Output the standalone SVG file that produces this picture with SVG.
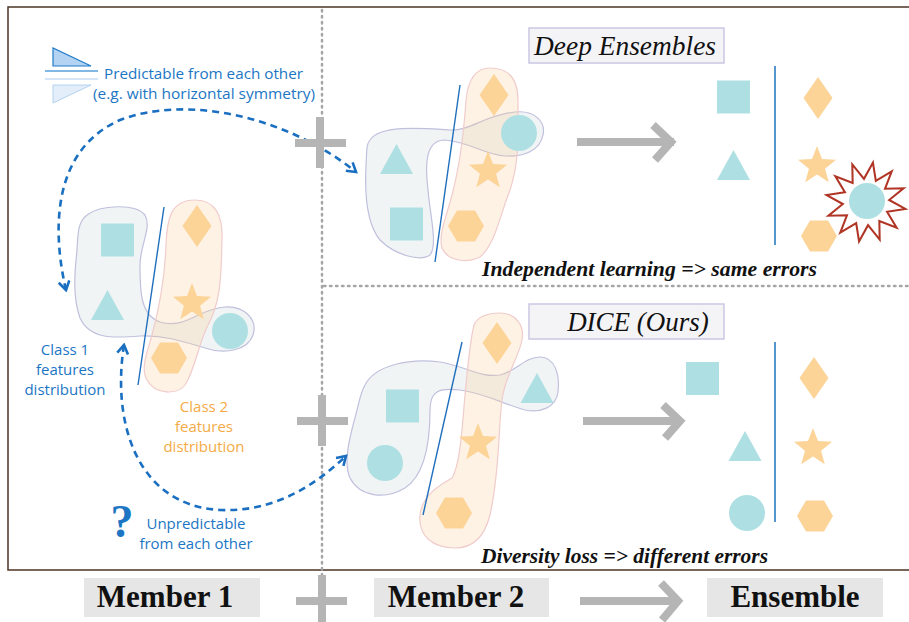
<svg xmlns="http://www.w3.org/2000/svg" xmlns:xlink="http://www.w3.org/1999/xlink" width="909" height="622" viewBox="0 0 909 622">
<style>
.c1{fill:rgba(205,220,220,0.3);stroke:#c0c0de;stroke-width:1.2}
.c2{fill:rgba(252,205,150,0.26);stroke:#f0cccc;stroke-width:1.2}
.teal{fill:#aee0e3}
.org{fill:#fcd498}
.sep{stroke:#1f6fbd;stroke-width:1.4;fill:none}
.gray{stroke:#b5b5b5;stroke-width:8;fill:none}
.dash{stroke:#1a6fc0;stroke-width:2.6;fill:none;stroke-dasharray:7 5}
.dot{stroke:#a6a6a6;stroke-width:2.5;stroke-dasharray:1.5 4.5;stroke-linecap:round;fill:none}
.lbl{font-family:"Open Sans","Noto Sans",sans-serif;font-size:15px}
.blue{fill:#1c76c4}
.orange{fill:#f5ab45}
.title{font-family:"Liberation Serif",serif;font-style:italic;font-size:27px;fill:#111}
.cap{font-family:"Liberation Serif",serif;font-style:italic;font-weight:bold;font-size:20px;fill:#111}
.box{fill:#f4f4f7;stroke:#cac8e2;stroke-width:1.5}
.mem{fill:#e6e6e6}
.memt{font-family:"Liberation Serif",serif;font-weight:bold;font-size:31px;fill:#111;text-anchor:middle}
</style>
<defs>
<marker id="chev" viewBox="0 0 12 12" refX="10" refY="6" markerWidth="13" markerHeight="13" markerUnits="userSpaceOnUse" orient="auto-start-reverse">
<path d="M2,1 L10,6 L2,11" fill="none" stroke="#1a6fc0" stroke-width="2.4"/>
</marker>
<rect id="sq" x="-16.5" y="-16.5" width="33" height="33"/>
<polygon id="tri" points="0,-15 16.5,15 -16.5,15"/>
<circle id="cir" r="18"/>
<polygon id="dia" points="0,-21 14.5,0 0,21 -14.5,0"/>
<polygon id="hex" points="-9,-15.5 9,-15.5 18,0 9,15.5 -9,15.5 -18,0"/>
<polygon id="star" points="0,-20 5,-6.88 19.02,-6.18 8.08,2.63 11.76,16.18 0,8.5 -11.76,16.18 -8.08,2.63 -19.02,-6.18 -5,-6.88"/>
</defs>
<rect width="909" height="622" fill="#fff"/>

<!-- frame -->
<path d="M909,7 H8 V570 H909" fill="none" stroke="#4e3424" stroke-width="1.5"/>
<line class="dot" x1="322" y1="10" x2="322" y2="622"/>
<line class="dot" x1="324" y1="286" x2="909" y2="286"/>

<!-- legend top-left -->
<g id="legend-predictable">
<polygon points="53,48 53,66 91,66" fill="#b4d3f2" stroke="#1f7bc7" stroke-width="1.2"/>
<line x1="45" y1="71" x2="98" y2="71" stroke="#5aa0dc" stroke-width="1.6"/>
<line x1="45" y1="79" x2="98" y2="79" stroke="#a8ccee" stroke-width="1.2"/>
<polygon points="53,85 91,85 53,103" fill="#e4eefa" stroke="#b4d2f0" stroke-width="1"/>
<text class="lbl blue" x="104" y="79" textLength="199" lengthAdjust="spacingAndGlyphs">Predictable from each other</text>
<text class="lbl blue" x="93" y="99" textLength="222" lengthAdjust="spacingAndGlyphs">(e.g. with horizontal symmetry)</text>
</g>

<!-- Member 1 -->
<g id="member1">
<path class="c1" d="M87,215 C100,205 135,203 145,215 C152,228 140,245 140,265 C140,290 140,315 160,322 C185,330 200,308 225,307 C245,306 258,320 253,335 C248,350 225,355 205,348 C185,342 165,335 140,336 C115,338 90,340 80,318 C72,295 75,270 77,250 C78,232 78,222 87,215 Z"/>
<path class="c2" d="M195,200 C215,200 223,215 222,240 C221,270 222,300 208,325 C198,345 195,370 185,385 C178,395 155,395 147,380 C140,368 148,350 152,335 C160,305 165,275 166,245 C167,220 170,200 195,200 Z"/>
<use href="#sq" class="teal" x="117.5" y="240"/>
<use href="#tri" class="teal" x="107.5" y="305"/>
<use href="#cir" class="teal" x="230" y="331"/>
<use href="#dia" class="org" x="197" y="226"/>
<use href="#star" class="org" x="192" y="303"/>
<use href="#hex" class="org" x="169" y="358"/>
<line class="sep" x1="164" y1="207" x2="138" y2="385"/>
</g>
<g id="class1-label">
<text class="lbl blue" text-anchor="middle" x="65" y="355">Class 1</text>
<text class="lbl blue" text-anchor="middle" x="65" y="375">features</text>
<text class="lbl blue" text-anchor="middle" x="65" y="395">distribution</text>
</g>
<g id="class2-label">
<text class="lbl orange" text-anchor="middle" x="204" y="412">Class 2</text>
<text class="lbl orange" text-anchor="middle" x="204" y="432">features</text>
<text class="lbl orange" text-anchor="middle" x="204" y="452">distribution</text>
</g>
<g id="legend-unpredictable">
<text x="122" y="537" text-anchor="middle" font-family="Liberation Serif,serif" font-weight="bold" font-size="46" fill="#1c76c4">?</text>
<text class="lbl blue" text-anchor="middle" x="196" y="529">Unpredictable</text>
<text class="lbl blue" text-anchor="middle" x="196" y="549">from each other</text>
</g>

<!-- Member 2 top (Deep Ensembles) -->
<g id="de-title">
<rect class="box" x="529" y="28" width="195" height="35"/>
<text class="title" x="625" y="55" text-anchor="middle" textLength="182" lengthAdjust="spacingAndGlyphs">Deep Ensembles</text>
</g>
<g id="de-member2">
<path class="c1" d="M370,140 C380,125 420,128 450,130 C470,131 485,115 515,112 C535,110 546,122 543,135 C540,150 525,157 505,156 C485,155 470,142 445,140 C425,140 425,165 428,190 C430,215 438,245 430,255 C420,262 395,255 380,240 C365,222 365,185 366,165 C367,150 366,145 370,140 Z"/>
<path class="c2" d="M490,68 C510,68 518,80 518,100 C518,130 520,160 510,190 C500,215 495,245 480,257 C468,263 448,262 442,248 C438,235 447,215 452,195 C460,165 464,130 466,100 C468,80 475,68 490,68 Z"/>
<use href="#tri" class="teal" x="396.5" y="159"/>
<use href="#sq" class="teal" x="406.5" y="224"/>
<use href="#cir" class="teal" x="519" y="133"/>
<use href="#dia" class="org" x="494" y="95"/>
<use href="#star" class="org" x="488" y="171"/>
<use href="#hex" class="org" x="466" y="226"/>
<line class="sep" x1="460" y1="85" x2="435" y2="262"/>
</g>
<g id="de-ensemble">
<use href="#sq" class="teal" x="733.5" y="97"/>
<use href="#tri" class="teal" x="733.5" y="165"/>
<line x1="775" y1="66" x2="775" y2="245" stroke="#2a7cc0" stroke-width="1.6"/>
<use href="#dia" class="org" x="818" y="98"/>
<use href="#star" class="org" x="817" y="166"/>
<use href="#hex" class="org" x="819" y="236"/>
<polygon transform="translate(866,202) scale(0.93)" fill="#fff" stroke="#b03525" stroke-width="2.2" points="7.47,-42.35 10.57,-22.66 27.64,-32.94 20.48,-14.34 40.41,-14.71 24.9,-2.18 42.35,7.47 22.66,10.57 32.94,27.64 14.34,20.48 14.71,40.41 2.18,24.9 -7.47,42.35 -10.57,22.66 -27.64,32.94 -20.48,14.34 -40.41,14.71 -24.9,2.18 -42.35,-7.47 -22.66,-10.57 -32.94,-27.64 -14.34,-20.48 -14.71,-40.41 -2.18,-24.9"/>
<use href="#cir" class="teal" x="867" y="201"/>
</g>
<text id="de-caption" class="cap" x="482" y="276" textLength="335" lengthAdjust="spacingAndGlyphs">Independent learning =&gt; same errors</text>

<!-- Member 2 bottom (DICE) -->
<g id="dice-title">
<rect class="box" x="529" y="304" width="195" height="35"/>
<text class="title" x="638" y="331" text-anchor="middle">DICE (Ours)</text>
</g>
<g id="dice-member2">
<path class="c1" d="M365,385 C375,365 410,358 440,362 C465,366 480,378 500,375 C515,372 525,357 540,357 C555,357 560,375 558,392 C556,408 540,413 525,410 C505,405 485,393 460,390 C440,388 430,390 430,410 C430,440 425,475 405,488 C385,500 360,497 350,478 C342,460 352,430 357,410 C360,398 361,392 365,385 Z"/>
<path class="c2" d="M500,313 C515,313 525,325 522,340 C518,360 505,375 502,400 C498,430 500,470 490,515 C485,535 475,548 455,548 C432,548 418,535 420,515 C422,495 440,485 452,478 C460,465 462,430 465,395 C468,365 470,340 474,325 C478,316 488,313 500,313 Z"/>
<use href="#sq" class="teal" x="402.5" y="406"/>
<use href="#cir" class="teal" x="385" y="463"/>
<use href="#tri" class="teal" x="537" y="388"/>
<use href="#dia" class="org" x="497" y="343"/>
<use href="#star" class="org" x="478" y="443"/>
<use href="#hex" class="org" x="454" y="513"/>
<line class="sep" x1="462" y1="342" x2="423" y2="515"/>
</g>
<g id="dice-ensemble">
<use href="#sq" class="teal" x="702.5" y="378.5"/>
<use href="#tri" class="teal" x="745" y="446"/>
<use href="#cir" class="teal" x="747" y="513"/>
<line x1="775" y1="342" x2="775" y2="522" stroke="#2a7cc0" stroke-width="1.6"/>
<use href="#dia" class="org" x="814" y="378"/>
<use href="#star" class="org" x="813" y="448"/>
<use href="#hex" class="org" x="815" y="516"/>
</g>
<text id="dice-caption" class="cap" x="481" y="563" textLength="287" lengthAdjust="spacingAndGlyphs">Diversity loss =&gt; different errors</text>

<!-- connectors -->
<g id="connectors">
<path class="dash" marker-start="url(#chev)" marker-end="url(#chev)" d="M66,290 C52,230 52,150 120,120 C185,95 285,115 356,172"/>
<path class="dash" marker-start="url(#chev)" marker-end="url(#chev)" d="M124,345 C112,420 135,505 220,510 C270,512 310,490 346,456"/>
<g class="gray">
<path d="M295,143 H346 M320,117 V168"/>
<path d="M297,421 H348 M322,395 V446"/>
<path d="M577,142 H674 M653,125 L671,142 L655,160"/>
<path d="M583,421 H680 M663,405 L680,421 L665,438"/>
<path d="M296,601 H347 M322,575 V622"/>
<path d="M580,601 H676 M661,583 L678,601 L662,620"/>
</g>
</g>

<!-- bottom legend -->
<g id="legend-member1">
<rect class="mem" x="84" y="578" width="176" height="39"/>
<text class="memt" x="165" y="607">Member 1</text>
</g>
<g id="legend-member2">
<rect class="mem" x="374" y="578" width="175" height="39"/>
<text class="memt" x="456" y="607">Member 2</text>
</g>
<g id="legend-ensemble">
<rect class="mem" x="707" y="578" width="176" height="39"/>
<text class="memt" x="795" y="607">Ensemble</text>
</g>
</svg>
